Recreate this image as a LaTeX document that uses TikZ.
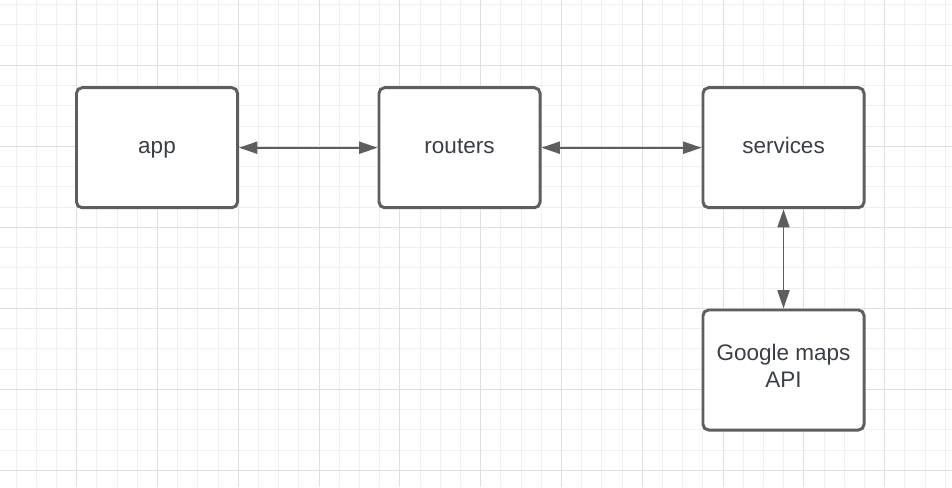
\documentclass[tikz,border=0pt]{standalone}
\usepackage{fontspec}
\setmainfont{Liberation Sans}
\usepackage{tikz}
\usetikzlibrary{arrows.meta}
\definecolor{gridminor}{HTML}{F0F0F0}
\definecolor{gridmajor}{HTML}{DFDFDF}
\definecolor{boxline}{HTML}{5E5E5E}
\definecolor{labeltext}{HTML}{3A3F47}

\begin{document}
\begin{tikzpicture}[x=0.025cm,y=-0.025cm,
  block/.style={draw=boxline, line width=2.1pt, rounded corners=4pt, fill=white,
    minimum width=4.025cm, minimum height=3cm, inner sep=0pt, align=center,
    text=labeltext, font=\fontsize{16}{19}\selectfont, execute at begin node=\strut},
  link/.style={{Triangle[length=13pt,width=8.5pt]}-{Triangle[length=13pt,width=8.5pt]},
    draw=boxline, line width=1.4pt}]
\useasboundingbox (0,0) rectangle (952,487);
\fill[white] (0,0) rectangle (952,487);
\foreach \i in {0,...,47} \draw[gridminor, line width=0.6pt] ({-4.1+20.2*\i},0) -- ({-4.1+20.2*\i},487);
\foreach \j in {0,...,24} \draw[gridminor, line width=0.6pt] (0,{-15.7+20.25*\j}) -- (952,{-15.7+20.25*\j});
\foreach \i in {0,...,12} \draw[gridmajor, line width=0.6pt] ({-4.1+80.8*\i},0) -- ({-4.1+80.8*\i},487);
\foreach \j in {0,...,6} \draw[gridmajor, line width=0.6pt] (0,{-15.7+81*\j}) -- (952,{-15.7+81*\j});
\node[block] (app) at (157,147.7) {app};
\node[block] (routers) at (459.5,147.7) {routers};
\node[block] (services) at (783.5,147.7) {services};
\node[block] (maps) at (783.5,370) {Google maps\\API};
\draw[link] (app) -- (routers);
\draw[link] (routers) -- (services);
\draw[link] (services) -- (maps);
\end{tikzpicture}
\end{document}
